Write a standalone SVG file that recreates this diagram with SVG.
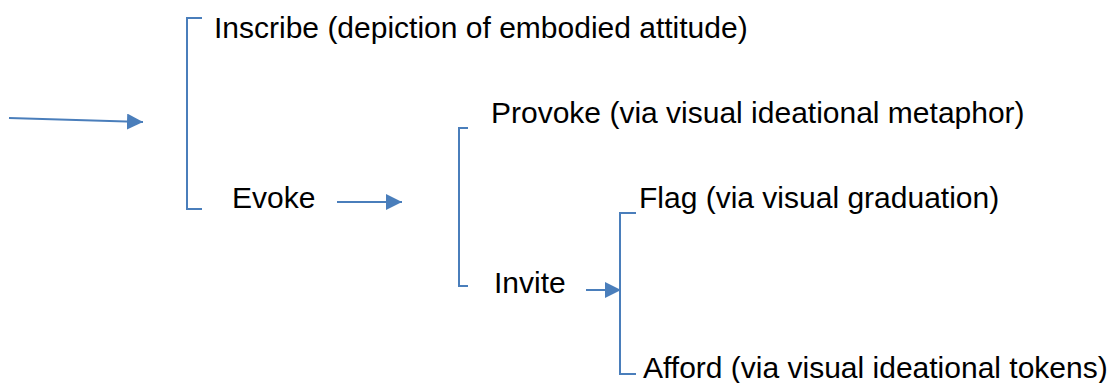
<svg xmlns="http://www.w3.org/2000/svg" width="1111" height="383" viewBox="0 0 1111 383">
<style>
text{font-family:"Liberation Sans",Arial,sans-serif;font-size:30px;fill:#000}
.ln{stroke:#4A7EBB;stroke-width:2;fill:none}
</style>
<defs>
<marker id="ah" viewBox="0 0 10 10" refX="10" refY="5" markerWidth="8" markerHeight="8" markerUnits="userSpaceOnUse" orient="auto">
<path d="M0,0 L10,5 L0,10 Z" fill="#4A7EBB"/>
</marker>
<marker id="ah2" viewBox="0 0 10 10" refX="10" refY="5" markerWidth="16" markerHeight="16" markerUnits="userSpaceOnUse" orient="auto">
<path d="M0,0 L10,5 L0,10 Z" fill="#4A7EBB"/>
</marker>
</defs>
<g id="connectors">
<line class="ln" x1="9" y1="118" x2="143" y2="122" marker-end="url(#ah2)"/>
<path id="bracket1" class="ln" d="M202,18 H187 V209 H202"/>
<line class="ln" x1="337" y1="202" x2="402" y2="202" marker-end="url(#ah2)"/>
<path id="bracket2" class="ln" d="M468,128 H459 V286 H468"/>
<line class="ln" x1="586" y1="290" x2="621" y2="290" marker-end="url(#ah2)"/>
<path id="bracket3" class="ln" d="M636,213 H620 V374 H636"/>
</g>
<g id="inscribe"><text x="214" y="38">Inscribe (depiction of embodied attitude)</text></g>
<g id="evoke"><text x="232" y="208">Evoke</text></g>
<g id="provoke"><text x="491" y="123">Provoke (via visual ideational metaphor)</text></g>
<g id="invite"><text x="494" y="293">Invite</text></g>
<g id="flag"><text x="639" y="208">Flag (via visual graduation)</text></g>
<g id="afford"><text x="643" y="378">Afford (via visual ideational tokens)</text></g>
</svg>
